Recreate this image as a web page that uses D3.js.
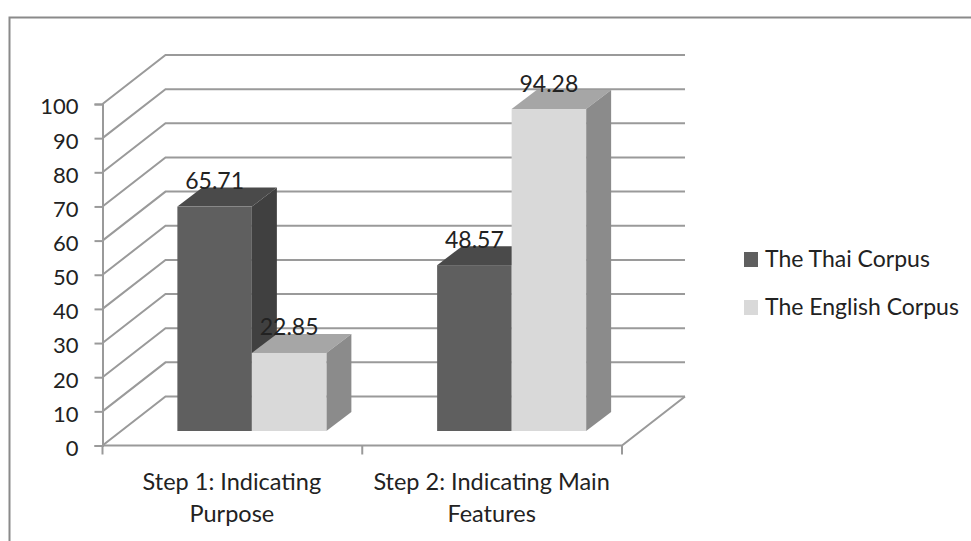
<!DOCTYPE html>
<html>
<head>
<meta charset="utf-8">
<script src="https://cdn.jsdelivr.net/npm/d3@7"></script>
<style>
html, body { margin: 0; padding: 0; background: #fff; overflow: hidden; }
text { font-family: Lato, "Open Sans", sans-serif; fill: #222; }
</style>
</head>
<body>
<svg id="chart" width="971" height="541" style="display:block"></svg>
<script>
const categories = ["Step 1: Indicating Purpose", "Step 2: Indicating Main Features"];
const categoryLines = [["Step 1: Indicating", "Purpose"], ["Step 2: Indicating Main", "Features"]];
const seriesNames = ["The Thai Corpus", "The English Corpus"];
const thaiValues = [65.71, 48.57];
const englishValues = [22.85, 94.28];
const tickValues = d3.range(0, 101, 10);

const frontColors = ["#5f5f5f", "#d9d9d9"];
const topColors = ["#4a4a4a", "#a6a6a6"];
const sideColors = ["#404040", "#8b8b8b"];
const gridColor = "#9a9a9a";

const svg = d3.select("#chart");

// Chart border: only the top and left edges fall inside the canvas
svg.append("rect")
  .attr("x", 9.5).attr("y", 17.5).attr("width", 990).attr("height", 560)
  .attr("fill", "#fff").attr("stroke", "#8a8a8a").attr("stroke-width", 2);

// Value scale on the front plane; the oblique depth shifts by (wallDx, wallDy)
const y = d3.scaleLinear().domain([0, 100]).range([445.5, 104]);
const xFront = d3.scaleBand().domain(categories).range([102.5, 622]);
const wallDx = 63, wallDy = -49;

// Bars stand partway into the depth of the floor
const barInsetX = 19.5, barInsetY = -14.5;
const barDepthX = 25, barDepthY = -19;
const barWidth = 74.5;
const barStart = d => xFront(d) + (xFront.bandwidth() - 2 * barWidth) / 2 + barInsetX;

// Floor outline and gridlines on the side and back walls
const grid = svg.append("g").attr("fill", "none").attr("stroke", gridColor).attr("stroke-width", 2);
const gridPath = d3.line();
tickValues.forEach(v => {
  grid.append("path").attr("d", gridPath([
    [xFront.range()[0], y(v)],
    [xFront.range()[0] + wallDx, y(v) + wallDy],
    [xFront.range()[1] + wallDx, y(v) + wallDy]
  ]));
});
grid.append("path").attr("d", gridPath([
  [xFront.range()[1] + wallDx, y(0) + wallDy],
  [xFront.range()[1], y(0)],
  [xFront.range()[0], y(0)]
]));

// Value axis
const yAxis = d3.axisLeft(y).tickValues(tickValues).tickSize(8).tickPadding(16);
const yAxisG = svg.append("g").attr("transform", `translate(${xFront.range()[0]},0)`).call(yAxis);
yAxisG.selectAll("line,path").attr("stroke", gridColor).attr("stroke-width", 2);
yAxisG.selectAll("text").style("font-size", "22px").attr("dy", "0.45em");

// Category axis with tick marks at the band boundaries
const boundaryTicks = [xFront.range()[0], xFront(categories[1]), xFront.range()[1]];
svg.append("g").selectAll("line").data(boundaryTicks).join("line")
  .attr("x1", d => d).attr("x2", d => d)
  .attr("y1", y(0)).attr("y2", y(0) + 9)
  .attr("stroke", gridColor).attr("stroke-width", 2);

const catLabels = svg.append("g").attr("text-anchor", "middle").style("font-size", "23.5px");
categories.forEach((c, i) => {
  categoryLines[i].forEach((line, j) => {
    catLabels.append("text")
      .attr("x", xFront(c) + xFront.bandwidth() / 2 - 0.5)
      .attr("y", 489.5 + j * 32)
      .text(line);
  });
});

// Draws one oblique bar: top and side faces, then the front face
function drawBar(g, x0, value, s) {
  const yBase = y(0) + barInsetY;
  const yTop = yBase - (y(0) - y(value));
  const x1 = x0 + barWidth;
  g.append("path").attr("fill", topColors[s]).attr("d", gridPath([
    [x0, yTop], [x1, yTop], [x1 + barDepthX, yTop + barDepthY], [x0 + barDepthX, yTop + barDepthY]
  ]) + "Z");
  g.append("path").attr("fill", sideColors[s]).attr("d", gridPath([
    [x1, yTop], [x1 + barDepthX, yTop + barDepthY], [x1 + barDepthX, yBase + barDepthY], [x1, yBase]
  ]) + "Z");
  g.append("rect").attr("x", x0).attr("y", yTop).attr("width", barWidth).attr("height", yBase - yTop)
    .attr("fill", frontColors[s]);
  return { cx: x0 + barWidth / 2, top: yTop + barDepthY };
}

const barsG = svg.append("g");
const labelsG = svg.append("g").attr("text-anchor", "middle").style("font-size", "23px");
const seriesValues = [thaiValues, englishValues];
categories.forEach((c, i) => {
  seriesValues.forEach((values, s) => {
    const pos = drawBar(barsG, barStart(c) + s * barWidth, values[i], s);
    labelsG.append("text").attr("x", pos.cx).attr("y", pos.top + 1.5).text(values[i].toFixed(2));
  });
});

// Legend
const legend = svg.append("g");
seriesNames.forEach((name, i) => {
  const ly = 259.5 + i * 48;
  legend.append("rect").attr("x", 744).attr("y", ly - 7.5).attr("width", 14).attr("height", 15)
    .attr("fill", frontColors[i]);
  legend.append("text").attr("x", 765).attr("y", ly + 7.5).style("font-size", "23px").text(name);
});
</script>
</body>
</html>
